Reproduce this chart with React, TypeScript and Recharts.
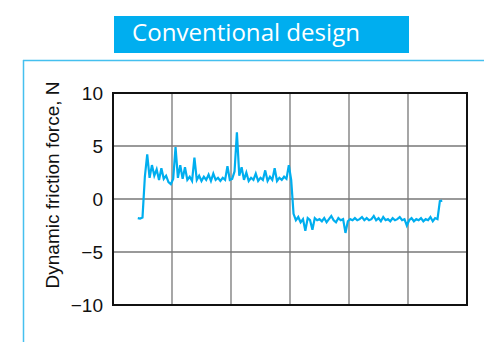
import React from 'react';
import { LineChart, Line, XAxis, YAxis, CartesianGrid, ReferenceArea } from 'recharts';

// Chart text
const titleText = 'Conventional design';
const yAxisTitle = 'Dynamic friction force, N';

// Axis ticks
const yTicks = [-10, -5, 0, 5, 10];
const xTicks = [0, 10, 20, 30, 40, 50, 60];

// Sampling of the trace (time base, arbitrary units)
const sampleStart = 4.2;
const sampleStep = 0.4;

// Dynamic friction force samples (N)
const forceValues = [
  -1.8, -1.85, -1.75, 2.1, 4.2, 2.0, 3.2, 2.2, 2.8, 1.8,
  2.9, 1.9, 2.2, 1.6, 1.4, 1.9, 4.9, 2.0, 3.2, 1.9,
  3.0, 1.8, 2.1, 1.7, 3.9, 1.8, 2.2, 1.7, 2.1, 1.8,
  2.3, 1.7, 2.4, 1.8, 2.0, 1.7, 2.0, 1.8, 3.1, 1.8,
  1.9, 2.6, 6.3, 2.2, 3.0, 1.8, 2.5, 1.7, 2.0, 1.8,
  2.4, 1.7, 2.0, 1.8, 2.7, 1.7, 2.1, 1.8, 2.9, 1.7,
  2.0, 1.8, 2.1, 1.9, 3.2, 1.8, -1.4, -2.0, -1.7, -2.2,
  -1.9, -3.0, -1.8, -2.0, -2.9, -1.8, -2.0, -1.9, -2.1, -1.8,
  -2.2, -1.9, -1.6, -2.0, -2.2, -1.8, -2.0, -1.9, -3.2, -2.1,
  -1.9, -2.0, -1.8, -2.0, -1.9, -1.7, -2.0, -1.8, -2.0, -1.9,
  -1.6, -2.0, -1.8, -2.1, -1.7, -2.0, -1.9, -2.1, -1.8, -2.0,
  -1.9, -1.7, -2.0, -1.9, -2.5, -2.0, -1.8, -2.1, -1.9, -2.0,
  -1.8, -2.1, -1.9, -2.0, -1.7, -2.1, -1.8, -1.9, -0.2, -0.15,
];

const data = forceValues.map((v, i) => ({ t: sampleStart + i * sampleStep, f: v }));

const FONT = '"Liberation Sans", Arial, Helvetica, sans-serif';
const BLUE = '#00aeef';

const fmt = (v: number) => String(v).replace('-', '\u2212');
const NoTick = () => <g />;

export default function App() {
  return (
    <div style={{ position: 'absolute', left: 0, top: 0, width: 484, height: 342, background: '#fff' }}>
      <LineChart
        width={484}
        height={342}
        data={data}
        margin={{ top: 93, right: 17, bottom: 37, left: 53 }}
      >
        <CartesianGrid stroke="#777" strokeWidth={1.3} />
        <XAxis
          dataKey="t"
          type="number"
          domain={[0, 60]}
          ticks={xTicks}
          height={0}
          tick={NoTick}
          axisLine={false}
          tickLine={false}
        />
        <YAxis
          type="number"
          domain={[-10, 10]}
          ticks={yTicks}
          width={60}
          axisLine={false}
          tickLine={false}
          tickSize={0}
          tickMargin={10}
          tickFormatter={fmt}
          tick={{ fill: '#111', fontSize: 19, fontFamily: FONT }}
        />
        <ReferenceArea x1={0} x2={60} y1={-10} y2={10} fill="none" stroke="#111" strokeWidth={2} ifOverflow="visible" />
        <Line
          type="linear"
          dataKey="f"
          stroke={BLUE}
          strokeWidth={2.2}
          dot={false}
          isAnimationActive={false}
        />
      </LineChart>
      <svg
        width={484}
        height={342}
        style={{ position: 'absolute', left: 0, top: 0, pointerEvents: 'none' }}
      >
        <rect x={114} y={16} width={295} height={37} fill={BLUE} />
        <text
          x={132}
          y={40.5}
          fill="#fff"
          fontSize={24}
          fontFamily='"Open Sans", "Noto Sans", sans-serif'
          textLength={228}
          lengthAdjust="spacingAndGlyphs"
        >
          {titleText}
        </text>
        <line x1={23} y1={60.5} x2={484} y2={60.5} stroke="#45c0ef" strokeWidth={1.5} />
        <line x1={23.5} y1={60} x2={23.5} y2={342} stroke="#45c0ef" strokeWidth={1.5} />
        <text
          x={0}
          y={0}
          transform="translate(59,185) rotate(-90)"
          textAnchor="middle"
          fill="#111"
          fontSize={19}
          fontFamily={FONT}
        >
          {yAxisTitle}
        </text>
      </svg>
    </div>
  );
}
